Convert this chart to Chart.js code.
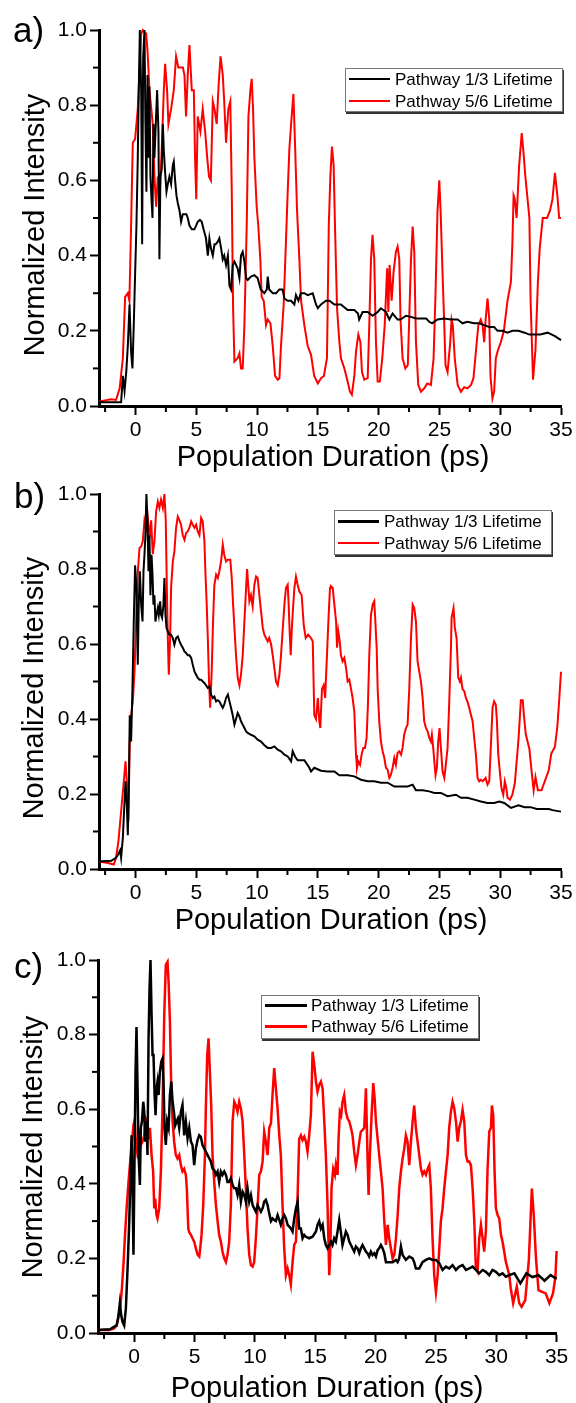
<!DOCTYPE html>
<html><head><meta charset="utf-8">
<script src="https://cdn.jsdelivr.net/npm/chart.js@4.4.1/dist/chart.umd.min.js"></script>
<style>
html,body{margin:0;padding:0;background:#fff;}
body{width:576px;height:1403px;position:relative;overflow:hidden;font-family:"Liberation Sans",Arial,sans-serif;color:#000;}
canvas{position:absolute;left:0;}
.lab{position:absolute;white-space:nowrap;color:#000;}
.ytitle{font-size:29px;line-height:29px;transform:translate(-50%,-50%) rotate(-90deg);}
.xtitle{font-size:29px;line-height:29px;transform:translateX(-50%);}
.plabel{font-size:35px;line-height:35px;}
.legend{position:absolute;border:1px solid #777;box-shadow:1px 2px 0 #333;background:#fff;font-size:17px;box-sizing:border-box;}
.legend .txt{position:absolute;line-height:20px;height:20px;white-space:nowrap;}
.legend .sw{position:absolute;}
</style></head>
<body>
<canvas id="ca" width="576" height="467" style="top:0px"></canvas>
<canvas id="cb" width="576" height="466" style="top:467px"></canvas>
<canvas id="cc" width="576" height="470" style="top:933px"></canvas>

<div class="lab plabel" style="left:13px;top:12px">a)</div>
<div class="lab plabel" style="left:14px;top:478px">b)</div>
<div class="lab plabel" style="left:14px;top:948px">c)</div>

<div class="lab ytitle" style="left:33.5px;top:225px">Normalized Intensity</div>
<div class="lab ytitle" style="left:33px;top:688px">Normalized Intensity</div>
<div class="lab ytitle" style="left:31.5px;top:1147px">Normalized Intensity</div>

<div class="lab xtitle" style="left:333px;top:441.5px">Population Duration (ps)</div>
<div class="lab xtitle" style="left:331px;top:904.5px">Population Duration (ps)</div>
<div class="lab xtitle" style="left:327px;top:1373px">Population Duration (ps)</div>

<div class="legend" style="left:345px;top:68px;width:218px;height:44px">
  <div class="sw" style="left:3px;width:41px;top:9px;height:2px;background:#000"></div>
  <div class="txt" style="left:49px;top:1px">Pathway 1/3 Lifetime</div>
  <div class="sw" style="left:3px;width:41px;top:31px;height:2px;background:#ff0000"></div>
  <div class="txt" style="left:49px;top:23px">Pathway 5/6 Lifetime</div>
</div>
<div class="legend" style="left:334px;top:510px;width:218px;height:45px">
  <div class="sw" style="left:3px;width:41px;top:9px;height:3px;background:#000"></div>
  <div class="txt" style="left:49px;top:1px">Pathway 1/3 Lifetime</div>
  <div class="sw" style="left:3px;width:41px;top:31px;height:2px;background:#ff0000"></div>
  <div class="txt" style="left:49px;top:23px">Pathway 5/6 Lifetime</div>
</div>
<div class="legend" style="left:261px;top:995px;width:218px;height:44px">
  <div class="sw" style="left:3px;width:42px;top:8px;height:3px;background:#000"></div>
  <div class="txt" style="left:49px;top:0px">Pathway 1/3 Lifetime</div>
  <div class="sw" style="left:3px;width:42px;top:29px;height:3px;background:#ff0000"></div>
  <div class="txt" style="left:49px;top:21px">Pathway 5/6 Lifetime</div>
</div>

<script>
// ---------- tick definitions ----------
const xMajor = [0,5,10,15,20,25,30,35];
const xMinor = [-2.5,2.5,7.5,12.5,17.5,22.5,27.5,32.5];
const yMajor = [0,0.2,0.4,0.6,0.8,1.0];
const yMinor = [0.1,0.3,0.5,0.7,0.9];
const seriesNames = ['Pathway 1/3 Lifetime','Pathway 5/6 Lifetime'];

// ---------- panel a ----------
const aBlkT = [-3.0,-2.0,-1.4,-1.18,-1.04,-0.9,-0.76,-0.63,-0.49,-0.36,-0.25,-0.14,-0.03,0.08,0.19,0.27,0.36,0.47,0.55,0.63,0.74,0.82,0.9,0.99,1.07,1.15,1.23,1.32,1.4,1.48,1.56,1.67,1.78,1.89,1.97,2.05,2.16,2.25,2.33,2.44,2.55,2.66,2.79,2.93,3.07,3.15,3.26,3.37,3.48,3.62,3.75,3.89,4.03,4.19,4.3,4.44,4.63,4.85,5.12,5.3,5.45,5.6,5.8,5.95,6.08,6.2,6.36,6.5,6.6,6.77,6.9,7.04,7.18,7.3,7.45,7.6,7.73,7.86,8.0,8.14,8.27,8.4,8.55,8.68,8.82,8.96,9.1,9.23,9.5,9.78,10.05,10.3,10.6,10.8,10.88,11.0,11.3,11.56,11.84,12.1,12.25,12.52,12.8,13.07,13.2,13.4,13.6,13.89,14.16,14.58,14.85,15.0,15.26,15.67,15.95,16.36,16.9,17.45,18.0,18.3,18.4,18.68,19.1,19.5,19.92,20.19,20.6,20.88,21.15,21.56,21.8,22.25,22.66,23.07,23.48,23.9,24.16,24.4,24.84,25.4,25.94,26.5,26.9,27.3,27.86,28.27,28.68,29.1,29.5,29.78,30.19,30.6,31.0,31.5,32.0,32.4,33.3,33.9,34.5,35.0];
const aBlkV = [0.01,0.01,0.01,0.01,0.08,0.04,0.09,0.16,0.27,0.145,0.10,0.215,0.35,0.48,0.66,0.84,1.0,0.84,0.43,0.925,1.0,0.75,0.57,0.88,0.66,0.85,0.61,0.55,0.50,0.75,0.66,0.75,0.84,0.73,0.39,0.61,0.63,0.75,0.68,0.62,0.57,0.59,0.61,0.59,0.64,0.65,0.60,0.56,0.54,0.52,0.49,0.51,0.51,0.51,0.50,0.48,0.47,0.47,0.49,0.495,0.49,0.47,0.446,0.40,0.446,0.42,0.40,0.43,0.43,0.437,0.446,0.42,0.39,0.40,0.375,0.40,0.32,0.31,0.375,0.384,0.375,0.366,0.34,0.40,0.41,0.384,0.34,0.335,0.344,0.348,0.34,0.31,0.30,0.31,0.344,0.31,0.30,0.30,0.31,0.31,0.286,0.28,0.28,0.27,0.295,0.28,0.30,0.30,0.295,0.30,0.27,0.26,0.27,0.28,0.28,0.27,0.27,0.255,0.255,0.246,0.23,0.25,0.25,0.24,0.25,0.26,0.25,0.23,0.246,0.23,0.23,0.24,0.237,0.233,0.233,0.233,0.224,0.22,0.23,0.233,0.23,0.23,0.22,0.224,0.22,0.22,0.215,0.21,0.21,0.20,0.20,0.195,0.20,0.20,0.195,0.19,0.19,0.195,0.186,0.175];
const aRedT = [-3.0,-2.5,-2.0,-1.6,-1.3,-1.04,-0.85,-0.63,-0.5,-0.36,-0.22,-0.03,0.19,0.47,0.6,0.88,1.0,1.15,1.42,1.56,1.7,1.84,1.97,2.16,2.33,2.44,2.6,2.71,2.93,3.15,3.34,3.53,3.75,3.9,4.03,4.16,4.3,4.44,4.63,4.8,4.9,5.0,5.12,5.34,5.53,5.73,5.9,6.05,6.2,6.36,6.5,6.68,6.85,7.0,7.18,7.3,7.45,7.64,7.8,7.92,8.03,8.14,8.4,8.55,8.68,8.82,8.96,9.15,9.29,9.45,9.56,9.67,9.78,9.97,10.1,10.27,10.38,10.55,10.74,10.88,11.1,11.29,11.48,11.7,11.84,11.97,12.19,12.38,12.52,12.66,12.8,12.99,13.12,13.29,13.48,13.62,13.89,14.16,14.44,14.7,15.0,15.26,15.5,15.75,15.9,16.03,16.16,16.3,16.41,16.58,16.77,16.9,17.18,17.45,17.64,17.8,18.0,18.14,18.33,18.5,18.63,18.82,19.1,19.23,19.37,19.5,19.64,19.78,19.92,20.1,20.3,20.5,20.7,20.8,20.9,21.07,21.23,21.42,21.56,21.7,21.8,21.97,22.2,22.4,22.5,22.66,22.8,22.93,23.07,23.26,23.48,23.75,24.0,24.3,24.52,24.68,24.84,24.99,25.1,25.26,25.4,25.5,25.67,25.89,26.0,26.1,26.26,26.5,26.77,27.04,27.3,27.6,27.8,28.0,28.2,28.4,28.55,28.68,28.8,28.96,29.1,29.2,29.36,29.5,29.64,29.78,30.05,30.3,30.6,30.88,31.0,31.1,31.2,31.35,31.55,31.77,31.9,32.07,32.4,32.5,32.7,32.9,33.1,33.25,33.5,33.85,34.1,34.3,34.5,34.7,34.85,35.0];
const aRedV = [0.012,0.015,0.018,0.016,0.047,0.127,0.29,0.30,0.28,0.48,0.70,0.71,0.79,0.99,1.0,0.99,0.94,0.84,0.75,0.61,0.53,0.61,0.55,0.68,0.84,0.91,0.84,0.75,0.79,0.84,0.93,0.90,0.90,0.90,0.88,0.77,0.88,0.96,0.84,0.84,0.66,0.55,0.77,0.73,0.79,0.73,0.66,0.61,0.60,0.81,0.79,0.75,0.86,0.93,0.88,0.81,0.70,0.79,0.81,0.57,0.26,0.118,0.127,0.14,0.10,0.10,0.215,0.48,0.77,0.84,0.87,0.79,0.66,0.53,0.48,0.39,0.29,0.28,0.215,0.23,0.22,0.16,0.08,0.07,0.074,0.16,0.27,0.44,0.57,0.685,0.75,0.83,0.70,0.52,0.39,0.28,0.215,0.16,0.136,0.08,0.06,0.074,0.08,0.127,0.48,0.61,0.69,0.64,0.48,0.26,0.17,0.127,0.10,0.065,0.038,0.03,0.08,0.145,0.19,0.17,0.09,0.07,0.074,0.215,0.39,0.455,0.39,0.17,0.065,0.065,0.127,0.215,0.366,0.25,0.375,0.28,0.357,0.41,0.424,0.39,0.23,0.127,0.10,0.109,0.215,0.39,0.477,0.41,0.17,0.056,0.038,0.047,0.06,0.056,0.127,0.30,0.517,0.60,0.517,0.35,0.215,0.109,0.09,0.17,0.23,0.215,0.127,0.056,0.038,0.05,0.047,0.056,0.074,0.145,0.215,0.23,0.215,0.17,0.23,0.286,0.23,0.08,0.02,0.038,0.127,0.145,0.17,0.20,0.28,0.33,0.43,0.56,0.55,0.50,0.636,0.726,0.68,0.61,0.50,0.28,0.07,0.15,0.33,0.42,0.50,0.50,0.52,0.55,0.62,0.56,0.50,0.50];

// ---------- panel b ----------
const bBlkT = [-3.0,-2.0,-1.6,-1.4,-1.26,-1.18,-1.04,-0.9,-0.82,-0.71,-0.63,-0.55,-0.47,-0.36,-0.25,-0.14,-0.03,0.08,0.19,0.27,0.36,0.47,0.58,0.66,0.74,0.82,0.9,0.99,1.07,1.15,1.23,1.32,1.4,1.48,1.56,1.64,1.73,1.84,1.92,2.03,2.1,2.19,2.3,2.38,2.47,2.55,2.66,2.79,2.93,3.07,3.2,3.34,3.48,3.62,3.75,3.89,4.03,4.16,4.3,4.44,4.58,4.71,4.85,4.99,5.12,5.26,5.4,5.53,5.67,5.8,5.95,6.08,6.22,6.36,6.49,6.63,6.77,6.9,7.04,7.18,7.3,7.45,7.6,7.73,7.86,8.0,8.14,8.27,8.41,8.55,8.68,8.82,8.96,9.1,9.23,9.5,9.78,10.05,10.33,10.6,10.88,11.15,11.42,11.7,11.97,12.25,12.52,12.8,12.93,13.12,13.34,13.6,13.89,14.3,14.44,14.71,15.26,15.8,16.36,16.77,17.45,18.0,18.55,19.1,19.64,20.19,20.74,21.29,21.84,22.38,22.8,23.07,23.62,24.16,24.58,25.12,25.67,26.36,26.77,27.3,27.86,28.41,28.96,29.5,29.92,30.33,30.88,31.5,32.0,32.5,33.0,33.5,34.0,34.3,35.0];
const bBlkV = [0.02,0.022,0.03,0.04,0.05,0.03,0.083,0.18,0.234,0.17,0.09,0.216,0.41,0.34,0.48,0.66,0.81,0.75,0.545,0.705,0.794,0.705,0.66,0.794,0.838,0.89,1.0,0.927,0.794,0.89,0.73,0.838,0.785,0.705,0.73,0.66,0.678,0.696,0.678,0.714,0.678,0.67,0.705,0.776,0.678,0.643,0.634,0.625,0.625,0.616,0.598,0.616,0.62,0.607,0.598,0.59,0.58,0.576,0.57,0.57,0.563,0.545,0.527,0.518,0.51,0.505,0.505,0.50,0.496,0.49,0.483,0.487,0.465,0.456,0.46,0.447,0.45,0.447,0.438,0.43,0.438,0.456,0.465,0.447,0.43,0.41,0.385,0.40,0.416,0.407,0.394,0.385,0.376,0.367,0.363,0.358,0.354,0.345,0.34,0.33,0.323,0.323,0.327,0.318,0.314,0.305,0.30,0.287,0.314,0.30,0.29,0.29,0.29,0.27,0.26,0.27,0.262,0.26,0.26,0.25,0.25,0.247,0.238,0.234,0.234,0.23,0.23,0.22,0.22,0.22,0.225,0.21,0.21,0.207,0.203,0.203,0.194,0.198,0.19,0.19,0.185,0.18,0.176,0.176,0.18,0.176,0.163,0.17,0.165,0.165,0.16,0.16,0.16,0.157,0.153];
const bRedT = [-3.0,-2.27,-1.78,-1.6,-1.4,-1.18,-0.96,-0.82,-0.68,-0.58,-0.47,-0.36,-0.22,-0.08,0.05,0.19,0.33,0.47,0.6,0.74,0.88,1.01,1.15,1.29,1.42,1.56,1.7,1.84,1.97,2.1,2.25,2.38,2.49,2.58,2.66,2.74,2.85,2.93,3.07,3.2,3.34,3.48,3.62,3.75,3.89,4.03,4.16,4.3,4.44,4.58,4.71,4.85,4.99,5.12,5.26,5.4,5.53,5.67,5.75,5.86,5.95,6.05,6.14,6.27,6.38,6.49,6.63,6.77,6.9,7.04,7.18,7.3,7.45,7.59,7.8,7.92,8.03,8.14,8.27,8.41,8.55,8.68,8.82,8.96,9.1,9.18,9.29,9.37,9.5,9.64,9.78,9.92,10.05,10.19,10.33,10.47,10.6,10.74,10.88,11.0,11.15,11.29,11.42,11.56,11.7,11.84,11.97,12.1,12.25,12.38,12.52,12.6,12.68,12.77,12.85,12.93,13.07,13.2,13.34,13.48,13.67,13.84,14.0,14.2,14.44,14.58,14.71,14.85,15.0,15.12,15.2,15.34,15.48,15.6,15.75,15.89,16.0,16.08,16.22,16.36,16.5,16.58,16.68,16.8,16.9,17.04,17.18,17.32,17.45,17.59,17.73,17.86,18.0,18.14,18.22,18.33,18.47,18.6,18.74,18.88,19.01,19.12,19.23,19.37,19.51,19.64,19.73,19.84,19.92,20.05,20.19,20.33,20.47,20.6,20.74,20.88,21.0,21.15,21.29,21.42,21.56,21.7,21.84,21.97,22.1,22.25,22.38,22.52,22.66,22.8,22.93,23.07,23.2,23.34,23.48,23.62,23.75,23.89,24.03,24.16,24.3,24.38,24.49,24.58,24.68,24.79,24.9,25.01,25.12,25.26,25.4,25.5,25.67,25.8,25.95,26.0,26.16,26.27,26.41,26.55,26.68,26.77,26.9,27.04,27.18,27.3,27.45,27.6,27.73,27.86,28.0,28.14,28.27,28.41,28.55,28.68,28.8,28.96,29.1,29.2,29.37,29.5,29.64,29.73,29.84,29.97,30.1,30.25,30.38,30.5,30.6,30.8,31.0,31.2,31.5,31.7,31.85,31.95,32.1,32.4,32.6,32.75,32.9,33.1,33.4,33.7,34.0,34.2,34.5,34.7,34.85,35.0];
const bRedV = [0.02,0.016,0.012,0.03,0.074,0.154,0.234,0.287,0.216,0.127,0.34,0.41,0.447,0.527,0.66,0.79,0.856,0.86,0.874,0.93,0.91,0.936,0.883,0.93,0.84,0.874,0.954,0.98,0.963,0.985,0.963,1.0,0.93,0.75,0.616,0.518,0.616,0.75,0.82,0.847,0.91,0.94,0.93,0.918,0.89,0.878,0.896,0.90,0.91,0.927,0.918,0.91,0.918,0.90,0.89,0.936,0.927,0.874,0.794,0.705,0.616,0.50,0.43,0.527,0.66,0.758,0.785,0.776,0.794,0.82,0.865,0.838,0.82,0.825,0.825,0.776,0.705,0.643,0.57,0.51,0.49,0.518,0.57,0.66,0.75,0.80,0.75,0.714,0.73,0.70,0.758,0.78,0.776,0.73,0.687,0.643,0.625,0.616,0.607,0.616,0.60,0.57,0.536,0.50,0.49,0.518,0.57,0.634,0.705,0.75,0.758,0.705,0.634,0.57,0.634,0.68,0.75,0.78,0.758,0.74,0.73,0.65,0.616,0.625,0.616,0.607,0.41,0.40,0.456,0.394,0.376,0.48,0.49,0.456,0.57,0.678,0.75,0.754,0.75,0.705,0.66,0.59,0.634,0.607,0.57,0.554,0.563,0.536,0.50,0.505,0.48,0.456,0.42,0.304,0.27,0.287,0.278,0.305,0.323,0.323,0.35,0.438,0.57,0.678,0.705,0.714,0.66,0.59,0.48,0.394,0.34,0.314,0.296,0.27,0.265,0.243,0.25,0.27,0.296,0.278,0.31,0.314,0.305,0.323,0.358,0.376,0.385,0.48,0.616,0.705,0.696,0.66,0.554,0.527,0.50,0.456,0.394,0.376,0.367,0.35,0.34,0.358,0.323,0.287,0.25,0.27,0.34,0.376,0.323,0.26,0.243,0.27,0.323,0.438,0.59,0.67,0.696,0.643,0.616,0.51,0.50,0.51,0.48,0.474,0.456,0.447,0.43,0.41,0.394,0.35,0.305,0.243,0.234,0.238,0.234,0.238,0.243,0.225,0.234,0.305,0.43,0.447,0.438,0.394,0.305,0.26,0.216,0.198,0.234,0.216,0.19,0.185,0.198,0.228,0.344,0.45,0.45,0.41,0.36,0.32,0.255,0.21,0.245,0.21,0.21,0.237,0.264,0.308,0.326,0.38,0.45,0.526];

// ---------- panel c ----------
const cBlkT = [-3.04,-2.0,-1.66,-1.46,-1.33,-1.19,-1.08,-0.97,-0.83,-0.69,-0.55,-0.41,-0.3,-0.22,-0.14,-0.06,0.03,0.11,0.19,0.28,0.36,0.47,0.55,0.64,0.75,0.83,0.91,1.02,1.1,1.19,1.27,1.35,1.44,1.52,1.6,1.69,1.77,1.85,1.93,2.02,2.13,2.24,2.35,2.43,2.51,2.62,2.73,2.85,2.96,3.07,3.18,3.29,3.4,3.51,3.62,3.73,3.87,4.0,4.14,4.28,4.42,4.56,4.7,4.83,4.97,5.11,5.25,5.39,5.52,5.66,5.8,5.94,6.08,6.22,6.35,6.49,6.63,6.77,6.91,7.04,7.18,7.32,7.46,7.6,7.73,7.87,8.01,8.15,8.29,8.43,8.56,8.7,8.84,8.98,9.12,9.25,9.39,9.53,9.67,9.81,9.94,10.08,10.22,10.36,10.5,10.64,10.77,10.91,11.05,11.19,11.33,11.46,11.6,11.74,11.88,12.02,12.15,12.29,12.43,12.57,12.71,12.85,12.98,13.12,13.26,13.4,13.54,13.67,13.81,13.95,14.09,14.23,14.5,14.78,15.06,15.19,15.33,15.47,15.61,15.75,15.88,16.02,16.16,16.3,16.43,16.57,16.71,16.85,16.99,17.12,17.26,17.4,17.54,17.68,17.82,17.96,18.09,18.23,18.37,18.51,18.65,18.78,18.92,19.06,19.2,19.33,19.47,19.61,19.75,19.89,20.03,20.17,20.3,20.44,20.58,20.72,20.86,21.13,21.41,21.69,21.83,21.96,22.1,22.24,22.51,22.79,23.07,23.2,23.34,23.62,23.89,24.17,24.45,24.72,25.0,25.28,25.55,25.83,26.1,26.38,26.66,26.93,27.21,27.49,27.76,28.04,28.31,28.59,28.87,29.14,29.42,29.69,29.97,30.25,30.52,30.8,31.08,31.5,32.0,32.5,33.0,33.5,34.0,34.5,35.0];
const cBlkV = [0.008,0.01,0.017,0.02,0.04,0.08,0.048,0.03,0.02,0.066,0.173,0.30,0.433,0.53,0.388,0.21,0.477,0.70,0.82,0.656,0.477,0.397,0.55,0.567,0.62,0.593,0.513,0.567,0.477,0.79,0.924,1.0,0.853,0.745,0.745,0.638,0.584,0.656,0.674,0.638,0.70,0.727,0.736,0.674,0.55,0.504,0.567,0.55,0.638,0.674,0.62,0.593,0.557,0.567,0.575,0.55,0.593,0.611,0.53,0.567,0.522,0.55,0.513,0.504,0.45,0.495,0.517,0.53,0.526,0.504,0.495,0.486,0.477,0.468,0.46,0.441,0.437,0.424,0.433,0.405,0.433,0.424,0.433,0.424,0.405,0.405,0.415,0.397,0.388,0.388,0.37,0.397,0.352,0.379,0.37,0.352,0.388,0.352,0.37,0.343,0.334,0.325,0.343,0.334,0.325,0.334,0.352,0.357,0.343,0.32,0.30,0.307,0.303,0.30,0.316,0.303,0.29,0.307,0.316,0.307,0.29,0.285,0.28,0.272,0.307,0.334,0.352,0.28,0.28,0.254,0.263,0.258,0.254,0.258,0.272,0.29,0.30,0.28,0.29,0.254,0.236,0.227,0.236,0.245,0.236,0.254,0.245,0.272,0.303,0.272,0.236,0.254,0.272,0.263,0.245,0.236,0.227,0.218,0.232,0.227,0.214,0.227,0.236,0.227,0.218,0.214,0.205,0.218,0.209,0.214,0.205,0.222,0.227,0.236,0.227,0.214,0.19,0.19,0.19,0.196,0.19,0.2,0.232,0.209,0.196,0.205,0.2,0.19,0.173,0.173,0.19,0.196,0.2,0.196,0.196,0.187,0.169,0.178,0.173,0.182,0.169,0.178,0.182,0.169,0.173,0.178,0.169,0.16,0.169,0.164,0.155,0.169,0.164,0.155,0.16,0.151,0.155,0.16,0.133,0.16,0.15,0.155,0.14,0.155,0.145];
const cRedT = [-3.04,-2.07,-1.66,-1.46,-1.33,-1.16,-1.02,-0.88,-0.75,-0.61,-0.47,-0.33,-0.19,-0.06,0.03,0.14,0.28,0.41,0.55,0.69,0.83,0.97,1.1,1.19,1.3,1.44,1.57,1.66,1.74,1.85,1.93,2.07,2.21,2.35,2.49,2.62,2.76,2.85,2.96,3.07,3.18,3.31,3.45,3.59,3.73,3.87,4.0,4.14,4.28,4.36,4.48,4.56,4.7,4.83,4.97,5.11,5.25,5.39,5.47,5.58,5.72,5.86,5.94,6.05,6.16,6.27,6.38,6.49,6.63,6.77,6.91,7.04,7.18,7.32,7.46,7.6,7.73,7.87,8.01,8.15,8.29,8.43,8.56,8.7,8.84,8.98,9.12,9.25,9.39,9.53,9.67,9.81,9.94,10.08,10.22,10.36,10.5,10.64,10.77,10.91,11.05,11.19,11.33,11.46,11.6,11.74,11.88,12.02,12.15,12.29,12.43,12.57,12.71,12.85,12.98,13.12,13.26,13.4,13.54,13.67,13.81,13.95,14.09,14.23,14.36,14.5,14.64,14.78,14.92,15.06,15.19,15.33,15.47,15.61,15.75,15.88,16.02,16.16,16.24,16.35,16.49,16.63,16.71,16.85,16.93,17.04,17.15,17.26,17.4,17.54,17.68,17.82,17.96,18.09,18.23,18.37,18.51,18.65,18.78,18.92,19.06,19.2,19.33,19.42,19.53,19.67,19.81,19.92,20.03,20.17,20.3,20.44,20.58,20.72,20.86,21.0,21.13,21.27,21.41,21.55,21.69,21.83,21.96,22.1,22.24,22.38,22.51,22.65,22.79,22.93,23.07,23.2,23.34,23.48,23.62,23.76,23.89,24.03,24.17,24.31,24.45,24.58,24.72,24.86,25.0,25.14,25.28,25.41,25.55,25.69,25.83,25.97,26.1,26.24,26.38,26.52,26.66,26.8,26.93,27.07,27.21,27.35,27.49,27.62,27.76,27.9,28.04,28.18,28.31,28.45,28.59,28.73,28.87,29.0,29.14,29.28,29.42,29.56,29.64,29.75,29.86,29.97,30.11,30.25,30.39,30.52,30.66,30.8,30.94,31.08,31.2,31.4,31.7,31.9,32.1,32.4,32.7,32.95,33.1,33.3,33.5,33.8,34.1,34.4,34.7,34.9,35.0];
const cRedV = [0.008,0.008,0.0125,0.02,0.04,0.066,0.12,0.19,0.27,0.343,0.405,0.46,0.513,0.557,0.57,0.513,0.477,0.486,0.504,0.513,0.53,0.575,0.567,0.52,0.55,0.477,0.433,0.334,0.36,0.316,0.307,0.334,0.433,0.61,0.853,0.987,0.995,0.94,0.835,0.656,0.567,0.513,0.477,0.468,0.477,0.45,0.433,0.44,0.424,0.388,0.28,0.27,0.263,0.254,0.245,0.227,0.21,0.205,0.227,0.263,0.343,0.477,0.61,0.745,0.79,0.70,0.61,0.477,0.405,0.343,0.30,0.263,0.245,0.218,0.20,0.19,0.21,0.245,0.343,0.567,0.62,0.61,0.593,0.62,0.602,0.567,0.477,0.388,0.28,0.21,0.182,0.178,0.19,0.254,0.334,0.424,0.433,0.46,0.54,0.513,0.477,0.55,0.562,0.638,0.71,0.656,0.602,0.53,0.477,0.343,0.227,0.155,0.173,0.155,0.13,0.19,0.236,0.245,0.37,0.52,0.53,0.517,0.526,0.513,0.486,0.53,0.584,0.754,0.718,0.674,0.647,0.665,0.674,0.656,0.567,0.477,0.343,0.155,0.21,0.388,0.44,0.424,0.45,0.424,0.52,0.593,0.584,0.62,0.638,0.593,0.575,0.567,0.55,0.53,0.486,0.45,0.477,0.513,0.54,0.544,0.55,0.656,0.477,0.37,0.477,0.584,0.67,0.63,0.567,0.52,0.477,0.433,0.388,0.30,0.236,0.29,0.254,0.227,0.20,0.21,0.254,0.316,0.388,0.433,0.468,0.495,0.53,0.513,0.45,0.513,0.567,0.61,0.55,0.513,0.477,0.44,0.424,0.433,0.424,0.44,0.45,0.388,0.254,0.155,0.11,0.155,0.227,0.30,0.334,0.388,0.433,0.477,0.55,0.593,0.62,0.602,0.567,0.513,0.55,0.567,0.598,0.567,0.477,0.46,0.46,0.45,0.388,0.30,0.173,0.164,0.254,0.29,0.254,0.218,0.272,0.44,0.54,0.55,0.61,0.584,0.433,0.334,0.316,0.307,0.263,0.245,0.218,0.19,0.173,0.155,0.12,0.08,0.124,0.08,0.07,0.088,0.196,0.387,0.32,0.196,0.115,0.11,0.106,0.08,0.106,0.15,0.22];

// ---------- helpers ----------
Chart.defaults.font.family = '"Liberation Sans", Arial, sans-serif';
Chart.defaults.color = '#000';

function pts(t, v){ return t.map((x, i) => ({x: x, y: v[i]})); }

const minorTicks = {
  id: 'minorTicks',
  afterDraw(chart){
    const ctx = chart.ctx, xs = chart.scales.x, ys = chart.scales.y, ca = chart.chartArea;
    ctx.save();
    ctx.strokeStyle = '#000';
    ctx.lineWidth = 2;
    xMinor.forEach(v => {
      const px = xs.getPixelForValue(v);
      ctx.beginPath(); ctx.moveTo(px, ca.bottom); ctx.lineTo(px, ca.bottom + 6); ctx.stroke();
    });
    yMinor.forEach(v => {
      const py = ys.getPixelForValue(v);
      ctx.beginPath(); ctx.moveTo(ca.left, py); ctx.lineTo(ca.left - 6, py); ctx.stroke();
    });
    ctx.restore();
  }
};

function makeChart(id, c){
  return new Chart(document.getElementById(id), {
    type: 'line',
    data: { datasets: [
      { label: seriesNames[0], data: pts(c.bt, c.bv), borderColor: '#000000', borderWidth: c.bw,
        pointRadius: 0, tension: 0, fill: false, clip: 6 },
      { label: seriesNames[1], data: pts(c.rt, c.rv), borderColor: '#ff0000', borderWidth: c.rw,
        pointRadius: 0, tension: 0, fill: false, clip: 6 }
    ]},
    options: {
      responsive: false, animation: false, maintainAspectRatio: false,
      layout: { padding: { top: c.top, right: c.right, left: 0, bottom: 0 } },
      plugins: { legend: { display: false }, tooltip: { enabled: false } },
      scales: {
        x: {
          type: 'linear', min: -3, max: 35,
          afterBuildTicks(s){ s.ticks = xMajor.map(v => ({ value: v })); },
          afterFit(s){ s.height = c.xh; },
          border: { display: true, color: '#000', width: 3 },
          grid: { display: true, drawOnChartArea: false, drawTicks: true, tickLength: 9, tickWidth: 2, tickColor: '#000' },
          ticks: { color: '#000', font: { size: 21 }, padding: 3, maxRotation: 0, autoSkip: false,
                   callback: v => String(v) }
        },
        y: {
          type: 'linear', min: 0, max: 1,
          afterBuildTicks(s){ s.ticks = yMajor.map(v => ({ value: v })); },
          afterFit(s){ s.width = c.yw; },
          border: { display: true, color: '#000', width: 3 },
          grid: { display: true, drawOnChartArea: false, drawTicks: true, tickLength: 9, tickWidth: 2, tickColor: '#000' },
          ticks: { color: '#000', font: { size: 21 }, padding: 3, callback: v => Number(v).toFixed(1) }
        }
      }
    },
    plugins: [minorTicks]
  });
}

makeChart('ca', { bt: aBlkT, bv: aBlkV, rt: aRedT, rv: aRedV, bw: 2, rw: 2, top: 30, right: 15, xh: 61, yw: 99 });
makeChart('cb', { bt: bBlkT, bv: bBlkV, rt: bRedT, rv: bRedV, bw: 2, rw: 2, top: 27, right: 15, xh: 64, yw: 99 });
makeChart('cc', { bt: cBlkT, bv: cBlkV, rt: cRedT, rv: cRedV, bw: 2.5, rw: 2.5, top: 27, right: 19.4, xh: 70, yw: 98 });
</script>
</body></html>
